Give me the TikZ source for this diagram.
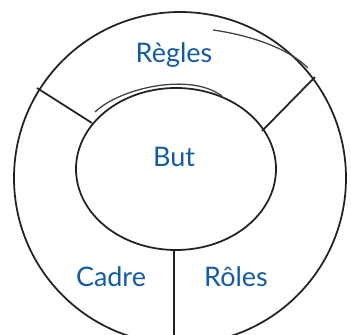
\documentclass[tikz,border=0pt]{standalone}
\usepackage{fontspec}
\setmainfont{Lato}
\usetikzlibrary{calc}
\definecolor{rgBlue}{HTML}{135BA6}
\definecolor{rgInk}{HTML}{222222}
\tikzset{
  rgpart/.style={font=\fontsize{23}{26}\selectfont, text=rgBlue, inner sep=0pt, anchor=base},
  rgline/.style={draw=rgInk, line width=1.5pt},
  rgsketch/.style={draw=rgInk!85, line width=1.1pt},
}
\begin{document}
\begin{tikzpicture}[x=0.03cm, y=-0.03cm]
  \useasboundingbox (0,0) rectangle (351,335);
  \clip (0,0) rectangle (351,335);
  % anneau exterieur et cercle central
  \draw[rgline] (180,178) ellipse (166 and 166);
  \draw[rgline] (176,169) ellipse (100 and 81);
  % traits repris a main levee
  \draw[rgsketch] (213,30) .. controls (255,36) and (290,50) .. (308,68);
  \draw[rgsketch] (95,112) .. controls (120,88) and (190,72) .. (222,96);
  % separations
  \coordinate (ol) at (37,88);   \coordinate (il) at (92,123);
  \coordinate (or) at (315,77);  \coordinate (ir) at (262,131);
  \coordinate (ib) at (174,251); \coordinate (ob) at (174,340);
  \draw[rgline] (ol) -- (il);
  \draw[rgline] (or) -- (ir);
  \draw[rgline] (ib) -- (ob);
  % secteurs
  \node[rgpart] (regles) at (174,62)  {Règles};
  \node[rgpart] (but)    at (174,167) {But};
  \node[rgpart] (cadre)  at (111,287) {Cadre};
  \node[rgpart] (roles)  at (236,287) {Rôles};
\end{tikzpicture}
\end{document}
